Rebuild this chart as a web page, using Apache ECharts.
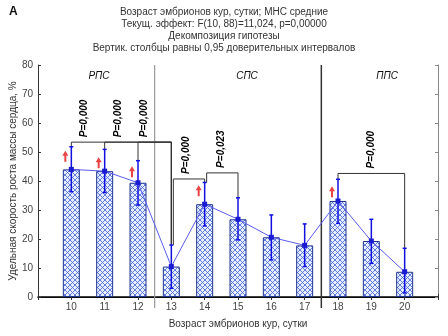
<!DOCTYPE html>
<html>
<head>
<meta charset="utf-8">
<script src="https://cdn.jsdelivr.net/npm/echarts@6/dist/echarts.min.js"></script>
<style>
html, body { margin: 0; padding: 0; background: #fff; }
#chart { width: 448px; height: 336px; }
</style>
</head>
<body>
<div id="chart"></div>
<script>
// возраст эмбрионов, сутки
var days = [10, 11, 12, 13, 14, 15, 16, 17, 18, 19, 20];
// средние значения, %
var means = [44.0, 43.4, 39.4, 10.5, 32.0, 26.8, 20.6, 17.8, 33.1, 19.3, 8.7];
// 95% доверительные интервалы
var ciLow = [36.3, 36.0, 31.7, 3.0, 24.5, 19.7, 12.8, 10.5, 25.4, 11.6, 1.4];
var ciHigh = [51.8, 50.9, 47.0, 17.9, 39.5, 34.2, 28.3, 25.2, 40.6, 26.8, 16.8];
var yTicks = [0, 10, 20, 30, 40, 50, 60, 70, 80];

// группы периодов
var groupNames = ['РПС', 'СПС', 'ППС'];
var groupLabelDays = [10.83, 15.27, 19.47];
var groupLabelLevel = 76;
var groupBounds = [12.5, 17.5];

// сравнения: от, до, уровень скобки, подпись, положение подписи
var cmpFrom = [10, 11, 12, 13, 14, 18];
var cmpTo = [13, 13, 13, 14, 15, 20];
var cmpLevel = [53.4, 53.4, 53.4, 40.7, 42.8, 42.6];
var cmpText = ['P=0,000', 'P=0,000', 'P=0,000', 'P=0,000', 'P=0,023', 'P=0,000'];
var cmpTextDay = [10.4, 11.4, 12.2, 13.45, 14.5, 19.0];

// красные стрелки
var arrowDays = [10, 11, 12, 14, 18];
var arrowLevels = [48.5, 46.3, 43.2, 36.6, 36.3];

var titleLines = [
	'Возраст эмбрионов кур, сутки; МНС средние',
	'Текущ. эффект: F(10, 88)=11,024, p=0,00000',
	'Декомпозиция гипотезы',
	'Вертик. столбцы равны 0,95 доверительных интервалов'
];

var FONT = 'Liberation Sans, Arial, sans-serif';

function hatch() {
	var c = document.createElement('canvas');
	c.width = 5; c.height = 5;
	var g = c.getContext('2d');
	g.fillStyle = '#e6eeff';
	g.fillRect(0, 0, 5, 5);
	g.strokeStyle = '#4a68d4';
	g.lineWidth = 0.85;
	g.beginPath();
	g.moveTo(0, 0); g.lineTo(5, 5);
	g.moveTo(5, 0); g.lineTo(0, 5);
	g.stroke();
	return c;
}

function hiOf(d) { return ciHigh[days.indexOf(d)]; }

var chart = echarts.init(document.getElementById('chart'));

var barData = days.map(function (d, i) { return [d, means[i]]; });
var errData = days.map(function (d, i) { return [d, ciLow[i], ciHigh[i]]; });
var cmpData = cmpFrom.map(function (f, i) { return [f, cmpTo[i], cmpLevel[i], cmpTextDay[i]]; });
var arrowData = arrowDays.map(function (d, i) { return [d, arrowLevels[i]]; });
var groupData = groupLabelDays.map(function (d) { return [d, groupLabelLevel]; });
var boundData = groupBounds.map(function (b) { return [b, 80]; });

var option = {
	animation: false,
	graphic: [{
		type: 'text', x: 9, y: 6,
		style: { text: 'А', fontSize: 12, fontWeight: 'bold', fill: '#111', fontFamily: FONT }
	}, {
		type: 'text', x: 224, y: 6,
		style: {
			text: titleLines.join('\n'), fontSize: 10, lineHeight: 12, fill: '#333',
			fontFamily: FONT, align: 'center', verticalAlign: 'top'
		}
	}],
	grid: { left: 38, right: 10, top: 65, bottom: 39, outerBoundsMode: 'none', containLabel: false },
	xAxis: [{
		type: 'value', min: 9, max: 21, interval: 1, position: 'bottom',
		axisLine: { lineStyle: { color: '#333' } },
		axisTick: { inside: true, length: 3, lineStyle: { color: '#333' } },
		axisLabel: {
			fontSize: 10, color: '#444', margin: 5, fontFamily: FONT,
			formatter: function (v) { return days.indexOf(v) >= 0 ? String(v) : ''; }
		},
		splitLine: { show: false },
		name: 'Возраст эмбрионов кур, сутки',
		nameLocation: 'middle', nameGap: 22, nameMoveOverlap: false,
		nameTextStyle: { fontSize: 10, color: '#333', fontFamily: FONT }
	}, {
		type: 'value', min: 9, max: 21, interval: 1, position: 'top',
		axisLine: { show: true, lineStyle: { color: '#000', width: 1.5 } },
		axisTick: { inside: true, length: 3, lineStyle: { color: '#333' } },
		axisLabel: { show: false },
		splitLine: { show: false }
	}],
	yAxis: [{
		type: 'value', min: 0, max: 80, interval: 10,
		axisLine: { show: true, lineStyle: { color: '#333' } },
		axisTick: { show: true, inside: true, length: 3, lineStyle: { color: '#333' } },
		axisLabel: {
			fontSize: 10, color: '#444', margin: 5, fontFamily: FONT,
			formatter: function (v) { return yTicks.indexOf(v) >= 0 ? String(v) : ''; }
		},
		splitLine: { show: false },
		name: 'Удельная скорость роста массы сердца, %',
		nameLocation: 'middle', nameGap: 20, nameRotate: 90, nameMoveOverlap: false,
		nameTextStyle: { fontSize: 10, color: '#333', fontFamily: FONT }
	}, {
		type: 'value', min: 0, max: 80, interval: 10, position: 'right',
		axisLine: { show: true, lineStyle: { color: '#888' } },
		axisTick: { show: true, inside: true, length: 3, lineStyle: { color: '#888' } },
		axisLabel: { show: false },
		splitLine: { show: false }
	}],
	series: [{
		// столбцы
		type: 'bar', data: barData, barWidth: 17, z: 2,
		itemStyle: { color: { image: hatch(), repeat: 'repeat' }, borderColor: '#1f3590', borderWidth: 1 }
	}, {
		// границы периодов
		type: 'custom', data: boundData, z: 3, clip: false,
		encode: { x: 0, y: 1 },
		renderItem: function (params, api) {
			var top = api.coord([api.value(0), 80]);
			var bot = api.coord([api.value(0), 0]);
			var dark = params.dataIndex === 1;
			return {
				type: 'line',
				shape: { x1: top[0], y1: top[1], x2: bot[0], y2: bot[1] + 11 },
				style: { stroke: dark ? '#333' : '#999', lineWidth: dark ? 1.5 : 1.2 }
			};
		}
	}, {
		// скобки сравнений
		type: 'custom', data: cmpData, z: 4, clip: false,
		encode: { x: [0, 1], y: 2 },
		renderItem: function (params, api) {
			var i = params.dataIndex;
			var f = api.value(0), t = api.value(1), lv = api.value(2);
			var shift = 0;
			for (var k = 0; k < i; k++) { if (cmpTo[k] === f) { shift = 2; } }
			var a = api.coord([f, lv]), b = api.coord([t, lv]);
			var aEnd = api.coord([f, hiOf(f)]), bEnd = api.coord([t, hiOf(t)]);
			var lp = api.coord([api.value(3), lv]);
			return {
				type: 'group',
				children: [
					{
						type: 'polyline',
						shape: { points: [[a[0] + shift, aEnd[1]], [a[0] + shift, a[1]], [b[0], b[1]], [b[0], bEnd[1]]] },
						style: { stroke: '#333', lineWidth: 1, fill: 'none' }
					},
					{
						type: 'text', x: lp[0], y: lp[1] - 5, rotation: Math.PI / 2,
						style: { text: cmpText[i], fontSize: 10, fontStyle: 'italic', fontWeight: 'bold', fill: '#000', fontFamily: FONT, align: 'left', verticalAlign: 'middle' }
					}
				]
			};
		}
	}, {
		// доверительные интервалы
		type: 'custom', data: errData, z: 5,
		encode: { x: 0, y: [1, 2] },
		renderItem: function (params, api) {
			var x = api.value(0);
			var top = api.coord([x, api.value(2)]);
			var bot = api.coord([x, api.value(1)]);
			var st = { stroke: '#1010e0', lineWidth: 1.5 };
			return {
				type: 'group',
				children: [
					{ type: 'line', shape: { x1: top[0], y1: top[1], x2: bot[0], y2: bot[1] }, style: st },
					{ type: 'line', shape: { x1: top[0] - 2, y1: top[1], x2: top[0] + 2, y2: top[1] }, style: st },
					{ type: 'line', shape: { x1: bot[0] - 2, y1: bot[1], x2: bot[0] + 2, y2: bot[1] }, style: st }
				]
			};
		}
	}, {
		// линия средних
		type: 'line', data: barData, z: 6,
		lineStyle: { color: '#5a5af0', width: 1 },
		itemStyle: { color: '#1a1ad0' },
		symbol: 'rect', symbolSize: 5, showSymbol: true
	}, {
		// стрелки
		type: 'scatter', data: arrowData, z: 7,
		symbol: 'path://M3,0 L6,5 L4,5 L4,11 L2,11 L2,5 L0,5 Z',
		symbolSize: [6, 11], symbolOffset: [-6, 0],
		itemStyle: { color: '#e31414' }
	}, {
		// названия периодов
		type: 'custom', data: groupData, z: 7,
		encode: { x: 0, y: 1 },
		renderItem: function (params, api) {
			var p = api.coord([api.value(0), api.value(1)]);
			return {
				type: 'text', x: p[0], y: p[1],
				style: { text: groupNames[params.dataIndex], fontSize: 10, fontStyle: 'italic', fill: '#111', fontFamily: FONT, align: 'center', verticalAlign: 'middle' }
			};
		}
	}]
};

chart.setOption(option);
</script>
</body>
</html>
